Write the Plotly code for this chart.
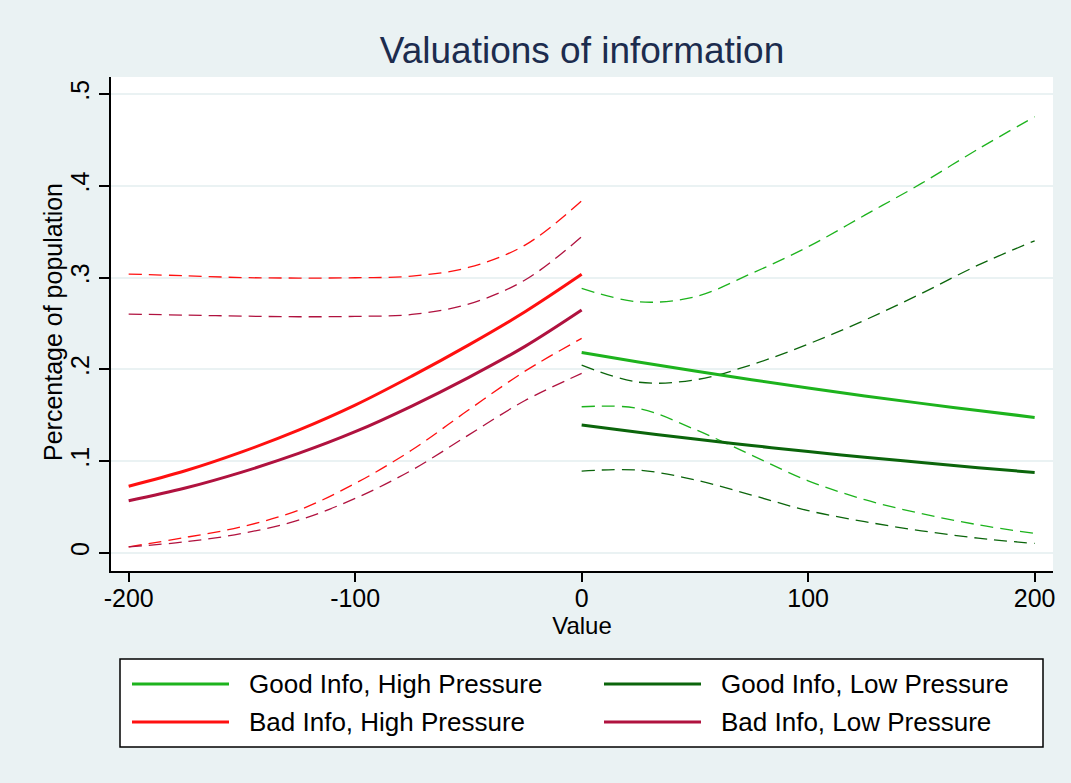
import plotly.graph_objects as go

# ---------------- data ----------------
x_bad = [-200, -175, -150, -125, -100, -75, -50, -25, 0]
bad_high = [0.0726, 0.0894, 0.110, 0.1337, 0.161, 0.1926, 0.2264, 0.2627, 0.3035]
bad_high_upper = [0.3038, 0.302, 0.300, 0.2995, 0.2998, 0.3016, 0.311, 0.3354, 0.3837]
bad_high_lower = [0.0065, 0.0168, 0.0284, 0.0465, 0.0756, 0.112, 0.1556, 0.198, 0.2337]
bad_low = [0.0567, 0.0706, 0.088, 0.1083, 0.132, 0.160, 0.191, 0.225, 0.2646]
bad_low_upper = [0.2602, 0.2591, 0.258, 0.2573, 0.2577, 0.2598, 0.2711, 0.2973, 0.3445]
bad_low_lower = [0.0065, 0.012, 0.0211, 0.0356, 0.0593, 0.0901, 0.1283, 0.166, 0.1955]

x_good = [0, 25, 50, 75, 100, 125, 150, 175, 200]
good_high = [0.2184, 0.2080, 0.1981, 0.1886, 0.1796, 0.1710, 0.1629, 0.1551, 0.1476]
good_high_upper = [0.2882, 0.2736, 0.279, 0.3045, 0.3336, 0.368, 0.4026, 0.440, 0.4753]
good_high_lower = [0.1592, 0.1574, 0.1345, 0.1065, 0.0785, 0.058, 0.0427, 0.0306, 0.0211]
good_low = [0.1392, 0.1314, 0.1240, 0.1170, 0.1104, 0.1042, 0.0984, 0.0928, 0.0876]
good_low_upper = [0.2046, 0.1860, 0.1885, 0.2050, 0.2275, 0.2536, 0.2827, 0.3135, 0.3401]
good_low_lower = [0.0891, 0.0902, 0.0795, 0.0630, 0.0460, 0.0340, 0.0240, 0.0160, 0.0102]

x_ticks = [-200, -100, 0, 100, 200]
x_tick_labels = ["-200", "-100", "0", "100", "200"]
y_ticks = [0, 0.1, 0.2, 0.3, 0.4, 0.5]
y_tick_labels = ["0", ".1", ".2", ".3", ".4", ".5"]

series_names = ["Good Info, High Pressure", "Good Info, Low Pressure",
                "Bad Info, High Pressure", "Bad Info, Low Pressure"]

# ---------------- style ----------------
C_GH = "#1DB31D"
C_GL = "#0B650B"
C_BH = "#FF1010"
C_BL = "#B0123F"
BG = "#EAF2F3"
FONT = "Liberation Sans, Arial, Helvetica, sans-serif"
DASH = "13px,7px"

fig = go.Figure()


def add(x, y, color, width, dash=None, name=None):
    fig.add_trace(go.Scatter(
        x=x, y=y, mode="lines", name=name, showlegend=False,
        line=dict(color=color, width=width, dash=dash, shape="spline", smoothing=1.0),
        hoverinfo="skip" if name is None else None,
    ))


# confidence bands (dashed)
add(x_good, good_high_upper, C_GH, 1.3, DASH)
add(x_good, good_high_lower, C_GH, 1.3, DASH)
add(x_good, good_low_upper, C_GL, 1.3, DASH)
add(x_good, good_low_lower, C_GL, 1.3, DASH)
add(x_bad, bad_high_upper, C_BH, 1.3, DASH)
add(x_bad, bad_high_lower, C_BH, 1.3, DASH)
add(x_bad, bad_low_upper, C_BL, 1.3, DASH)
add(x_bad, bad_low_lower, C_BL, 1.3, DASH)

# main estimates
add(x_good, good_high, C_GH, 3, None, series_names[0])
add(x_good, good_low, C_GL, 3, None, series_names[1])
add(x_bad, bad_high, C_BH, 3, None, series_names[2])
add(x_bad, bad_low, C_BL, 3, None, series_names[3])

# ---------------- layout ----------------
W, H = 1071, 783
L, R, T, B = 111, 18, 77, 212
PW, PH = W - L - R, H - T - B


def px(xp):
    return (xp - L) / PW


def py(yp):
    return (H - B - yp) / PH


fig.update_layout(
    width=W, height=H,
    margin=dict(l=L, r=R, t=T, b=B, pad=0),
    paper_bgcolor=BG, plot_bgcolor="white",
    font=dict(family=FONT, size=25, color="black"),
    showlegend=False,
    title=dict(text="Valuations of information", x=0.5, xref="paper",
               y=1 - 50 / H, yref="container", xanchor="center", yanchor="middle",
               font=dict(family=FONT, size=37, color="#1C2C4E")),
    xaxis=dict(range=[-207.8, 208.1], tickvals=x_ticks, ticktext=x_tick_labels,
               ticks="outside", ticklen=9, ticklabelstandoff=-5,
               tickwidth=1.5, tickcolor="black", showgrid=False, zeroline=False,
               showline=True, linecolor="black", linewidth=1.5,
               title=dict(text="Value", font=dict(size=24), standoff=2),
               tickfont=dict(size=25)),
    yaxis=dict(range=[-0.0198, 0.5186], tickvals=y_ticks, ticktext=y_tick_labels,
               tickangle=-90, ticks="outside", ticklen=10, tickwidth=1.5,
               tickcolor="black", showgrid=True, gridcolor=BG, gridwidth=2,
               zeroline=False, showline=True, linecolor="black", linewidth=1.5,
               tickfont=dict(size=25)),
)

# ---------------- manual legend & y title ----------------
shapes = [dict(type="rect", xref="paper", yref="paper",
               x0=px(120), x1=px(1043), y0=py(659), y1=py(747),
               fillcolor="white", line=dict(color="black", width=1.5), layer="below")]
annotations = [dict(text="Percentage of population", xref="paper", yref="paper",
                    x=px(53), y=py(322), xanchor="center", yanchor="middle",
                    textangle=-90, showarrow=False,
                    font=dict(family=FONT, size=25, color="black"))]
legend_items = [
    (series_names[0], C_GH, 132, 684),
    (series_names[1], C_GL, 604, 684),
    (series_names[2], C_BH, 132, 722),
    (series_names[3], C_BL, 604, 722),
]
for name, color, xs, ys in legend_items:
    shapes.append(dict(type="line", xref="paper", yref="paper",
                       x0=px(xs), x1=px(xs + 97), y0=py(ys), y1=py(ys),
                       line=dict(color=color, width=3)))
    annotations.append(dict(text=name, xref="paper", yref="paper",
                            x=px(xs + 115), y=py(ys), xanchor="left", yanchor="middle",
                            showarrow=False, font=dict(family=FONT, size=26, color="black")))

fig.update_layout(shapes=shapes, annotations=annotations)

fig.write_html("out.html")
